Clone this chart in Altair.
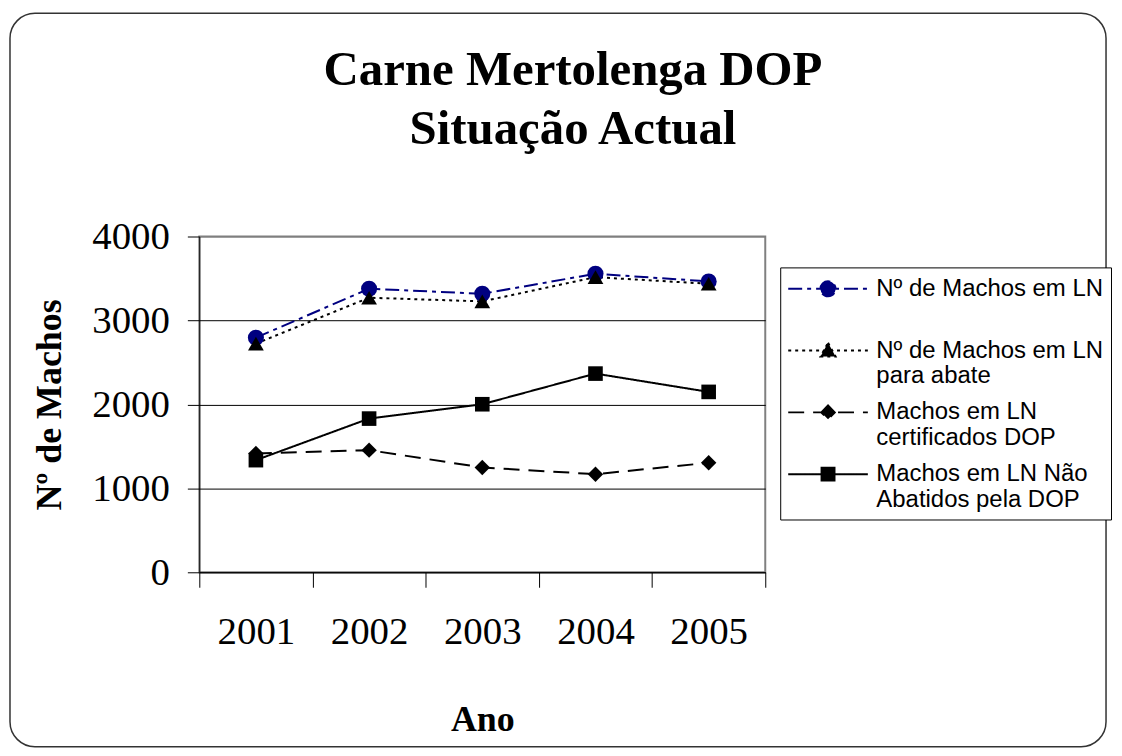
import altair as alt
import pandas as pd

# ---------------- data ----------------
years = ["2001", "2002", "2003", "2004", "2005"]
series = [
    "Nº de Machos em LN",
    "Nº de Machos em LN para abate",
    "Machos em LN certificados DOP",
    "Machos em LN Não Abatidos pela DOP",
]
machos_ln = [2795, 3378, 3318, 3556, 3465]
machos_abate = [2724, 3271, 3227, 3516, 3437]
certificados_dop = [1415, 1455, 1249, 1169, 1304]
nao_abatidos = [1336, 1831, 2002, 2367, 2149]
legend_lines = [
    ["Nº de Machos em LN", " "],
    ["Nº de Machos em LN", "para abate"],
    ["Machos em LN", "certificados DOP"],
    ["Machos em LN Não", "Abatidos pela DOP"],
]
y_ticks = [0, 1000, 2000, 3000, 4000]
title_lines = ["Carne Mertolenga DOP", "Situação Actual"]
x_title = "Ano"
y_title = "Nº de Machos"

values = [machos_ln, machos_abate, certificados_dop, nao_abatidos]
rows = []
for s, vals in zip(series, values):
    for yr, v in zip(years, vals):
        rows.append({"series": s, "year": yr, "value": v})
df = pd.DataFrame(rows)

# ---------------- styles ----------------
colors = ["#000080", "#000000", "#000000", "#000000"]
dashes = [[14, 5, 4, 5], [3, 4], [16, 9], [1, 0]]
shapes = ["circle", "triangle-up", "diamond", "square"]
sizes = [260, 250, 240, 215]
# legend symbol: 1 unit = 13.5 px (symbolSize 729); line spans 80 px
legend_paths = [
    "M-2.96,0H2.96M-0.56,0A0.56,0.56,0,1,1,0.56,0A0.56,0.56,0,1,1,-0.56,0Z",
    "M-2.96,0H2.96M0,-0.58L0.56,0.44L-0.56,0.44Z",
    "M-2.96,0H2.96M0,-0.52L0.5,0L0,0.52L-0.5,0Z",
    "M-2.96,0H2.96M-0.48,-0.48H0.48V0.48H-0.48Z",
]

serif = "Liberation Serif"
sans = "Liberation Sans"

label_expr = " : ".join(
    f"datum.label == '{s}' ? ['{a}', '{b}']" for s, (a, b) in zip(series, legend_lines)
) + " : datum.label"

x_enc = alt.X(
    "year:O",
    scale=alt.Scale(domain=years, paddingInner=0, paddingOuter=0),
    axis=alt.Axis(
        title=x_title, titleFont=serif, titleFontSize=36, titleFontWeight="bold",
        titleColor="black", titlePadding=52,
        labelFont=serif, labelFontSize=39, labelColor="black", labelPadding=25,
        labelAngle=0, tickSize=15, tickColor="black", tickBand="extent",
        domainColor="black", domainWidth=1, grid=False,
    ),
)
y_enc = alt.Y(
    "value:Q",
    scale=alt.Scale(domain=[0, 4000], nice=False),
    axis=alt.Axis(
        values=y_ticks, format="d", title=y_title, titleFont=serif, titleFontSize=36,
        titleFontWeight="bold", titleColor="black", titlePadding=23,
        labelFont=serif, labelFontSize=39, labelColor="black", labelPadding=18,
        tickSize=12, tickColor="black", domainColor="black", domainWidth=1,
        grid=True,
        gridColor={"condition": {"test": "datum.value == 4000", "value": "#808080"}, "value": "black"},
        gridWidth=1,
    ),
)

base = alt.Chart(df)

series_layers = []
for s, c, d in zip(series, colors, dashes):
    series_layers.append(
        base.transform_filter(alt.datum.series == s)
        .mark_line(strokeWidth=2, color=c, strokeDash=d)
        .encode(x=x_enc, y=y_enc)
    )
for s, c, sh, sz in zip(series, colors, shapes, sizes):
    series_layers.append(
        base.transform_filter(alt.datum.series == s)
        .mark_point(shape=sh, filled=True, size=sz, color=c, opacity=1)
        .encode(x=x_enc, y=y_enc)
    )

leg = alt.Legend(
    orient="none", legendX=583, legendY=31, title=None,
    labelFont=sans, labelFontSize=24, labelColor="black", labelLimit=500,
    labelOffset=34, labelExpr=label_expr, symbolOffset=26.5,
    symbolSize=729, symbolStrokeWidth=2, rowPadding=9, padding=7,
    strokeColor="black", fillColor="white",
)
legend_layer = base.transform_filter("false").mark_point(
    filled=True, opacity=1, size=729, strokeWidth=2
).encode(
    x=x_enc, y=y_enc,
    color=alt.Color("series:N", scale=alt.Scale(domain=series, range=colors), legend=leg),
    stroke=alt.Stroke("series:N", scale=alt.Scale(domain=series, range=colors), legend=leg),
    shape=alt.Shape("series:N", scale=alt.Scale(domain=series, range=legend_paths), legend=leg),
    strokeDash=alt.StrokeDash("series:N", scale=alt.Scale(domain=series, range=dashes), legend=leg),
)

one = pd.DataFrame({"k": [0]})
border = alt.Chart(one).mark_rect(
    fill="transparent", stroke="#333333", strokeWidth=1.5, cornerRadius=25
).encode(x=alt.value(-190), x2=alt.value(910), y=alt.value(-224), y2=alt.value(512))

title = alt.Chart(one).mark_text(
    text=title_lines, font=serif, fontSize=49, fontWeight="bold", lineHeight=59,
    align="center", baseline="alphabetic", color="black",
).encode(x=alt.value(375), y=alt.value(-152))

chart = alt.layer(border, title, *series_layers, legend_layer).properties(
    width=568, height=337,
    autosize="none",
    padding={"left": 192, "top": 228, "right": 350, "bottom": 175},
).configure_view(stroke="#808080", strokeWidth=2)

chart.save("out.html", embed_options={"renderer": "svg", "actions": False})
